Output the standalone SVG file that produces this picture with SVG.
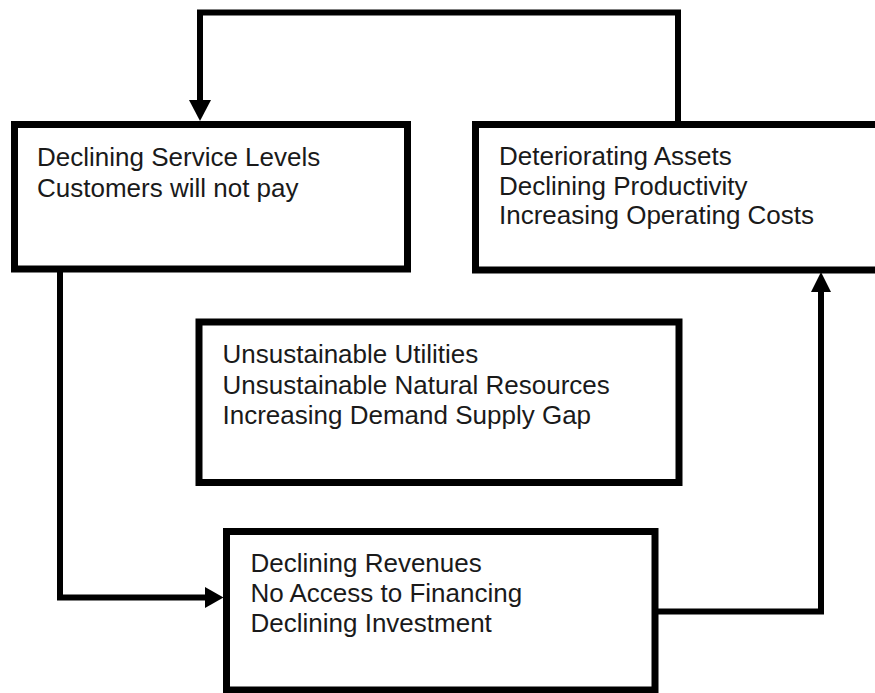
<svg xmlns="http://www.w3.org/2000/svg" width="875" height="693" viewBox="0 0 875 693">
  <style>
    .box { fill: #ffffff; stroke: #000000; stroke-width: 7; }
    .wire { fill: none; stroke: #000000; stroke-width: 6; stroke-linejoin: miter; }
    .head { fill: #000000; }
    .label { font-family: "Liberation Sans", Arial, sans-serif; font-size: 26px; fill: #1a1a1a; }
  </style>
  <rect x="0" y="0" width="875" height="693" fill="#ffffff"/>

  <!-- connectors -->
  <g id="connectors">
    <!-- assets box back round to service levels box -->
    <polyline class="wire" points="678,124 678,12.5 200,12.5 200,102"/>
    <polygon class="head" points="189,100 211,100 200,121"/>
    <!-- service levels down to revenues -->
    <polyline class="wire" points="60,269 60,597.5 207,597.5"/>
    <polygon class="head" points="205,587 205,608 223.5,597.5"/>
    <!-- revenues up to assets -->
    <polyline class="wire" points="655,611.5 821,611.5 821,290"/>
    <polygon class="head" points="811,292 831,292 821,272"/>
  </g>

  <g id="service-levels">
    <rect class="box" x="14.5" y="124.5" width="393" height="144.5"/>
    <text class="label" x="37" y="166">Declining Service Levels</text>
    <text class="label" x="37" y="196.5">Customers will not pay</text>
  </g>

  <g id="assets">
    <rect class="box" x="475.5" y="124.5" width="420" height="145.5"/>
    <text class="label" x="499" y="165">Deteriorating Assets</text>
    <text class="label" x="499" y="195">Declining Productivity</text>
    <text class="label" x="499" y="224">Increasing Operating Costs</text>
  </g>

  <g id="sustainability">
    <rect class="box" x="199" y="322" width="480" height="160.5"/>
    <text class="label" x="222.5" y="363">Unsustainable Utilities</text>
    <text class="label" x="222.5" y="393.5">Unsustainable Natural Resources</text>
    <text class="label" x="222.5" y="424">Increasing Demand Supply Gap</text>
  </g>

  <g id="revenues">
    <rect class="box" x="226.5" y="531.5" width="428.5" height="158.5"/>
    <text class="label" x="250.5" y="571.5">Declining Revenues</text>
    <text class="label" x="250.5" y="601.5">No Access to Financing</text>
    <text class="label" x="250.5" y="631.5">Declining Investment</text>
  </g>
</svg>
